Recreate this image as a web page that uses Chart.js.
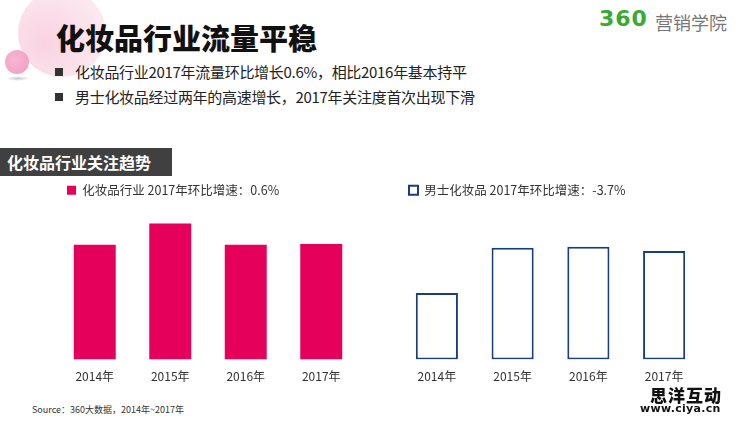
<!DOCTYPE html>
<html>
<head>
<meta charset="utf-8">
<script src="https://cdn.jsdelivr.net/npm/chart.js@4.4.0/dist/chart.umd.min.js"></script>
<style>
  body { margin: 0; width: 750px; height: 422px; background: #fff; position: relative; overflow: hidden;
         font-family: "Noto Sans CJK SC", "Noto Sans", sans-serif; color: #333; }
  .abs { position: absolute; white-space: nowrap; }
  #bigCircle { left: 18px; top: -11px; width: 88px; height: 88px; border-radius: 50%;
               background: radial-gradient(circle at 30% 60%, #f9d3e1 0%, #fbe3ec 55%, #fdf1f5 100%); }
  #smallCircle { left: 5px; top: 50px; width: 24px; height: 24px; border-radius: 50%;
                 background: radial-gradient(circle at 40% 40%, #f7b6d2 0%, #f29cc2 100%); }
  #shadow { left: 6px; top: 76px; width: 24px; height: 5px; border-radius: 50%;
            background: radial-gradient(ellipse, #c9c9c9 0%, rgba(255,255,255,0) 70%); }
  #title { left: 56px; top: 16px; font-size: 29px; font-weight: 900; color: #111; }
  .bullet { left: 55px; width: 8px; height: 8px; background: #333; }
  .btext { left: 75px; font-size: 15px; color: #222; letter-spacing: -0.3px; }
  #section { left: 0; top: 148px; width: 172px; height: 28px; background: #404040; }
  #sectionText { left: 7px; top: 150px; font-size: 16px; font-weight: 700; color: #fff; }
  #logo360 { left: 599px; top: 6px; font-family: "DejaVu Sans", sans-serif; font-size: 22px; font-weight: 700;
             color: #3aa935; letter-spacing: 1px; }
  #logoText { left: 655px; top: 9px; font-size: 18px; color: #777; }
  #source { left: 32px; top: 403px; font-size: 9px; color: #333; }
  #wm1 { left: 650px; top: 382px; font-size: 17px; font-weight: 900; color: #111; letter-spacing: 1px; }
  #wm2 { left: 640px; top: 402px; font-family: "DejaVu Sans", sans-serif; font-size: 11px; font-weight: 700; color: #111; letter-spacing: 0.3px; }
  canvas { position: absolute; }
</style>
</head>
<body>
<div id="bigCircle" class="abs"></div>
<div id="shadow" class="abs"></div>
<div id="smallCircle" class="abs"></div>
<div id="title" class="abs">化妆品行业流量平稳</div>
<div id="logo360" class="abs">360</div>
<div id="logoText" class="abs">营销学院</div>
<div class="abs bullet" style="top:68px"></div>
<div class="abs btext" style="top:61px">化妆品行业2017年流量环比增长0.6%，相比2016年基本持平</div>
<div class="abs bullet" style="top:93px"></div>
<div class="abs btext" style="top:86px">男士化妆品经过两年的高速增长，2017年关注度首次出现下滑</div>
<div id="section" class="abs"></div>
<div id="sectionText" class="abs">化妆品行业关注趋势</div>
<canvas id="leftChart" style="left:57px; top:174px; width:302px; height:220px"></canvas>
<canvas id="rightChart" style="left:399px; top:174px; width:303px; height:220px"></canvas>
<div id="source" class="abs">Source：360大数据，2014年~2017年</div>
<div id="wm1" class="abs">思洋互动</div>
<div id="wm2" class="abs">www.ciya.cn</div>

<script>
// categories and relative attention index
const years = ['2014年', '2015年', '2016年', '2017年'];
const cosmeticsValues = [114, 135, 114, 114.7];
const menValues = [66, 111, 112, 107.9];
const cosmeticsLabel = '化妆品行业 2017年环比增速：0.6%';
const menLabel = '男士化妆品 2017年环比增速：-3.7%';
const yMax = 152;

Chart.defaults.font.family = '"Noto Sans CJK SC", "Noto Sans", sans-serif';
Chart.defaults.color = '#333';

function makeChart(id, label, values, fill, border, borderWidth) {
  const ctx = document.getElementById(id);
  return new Chart(ctx, {
    type: 'bar',
    data: {
      labels: years,
      datasets: [{
        label: label,
        data: values,
        backgroundColor: fill,
        borderColor: border,
        borderWidth: borderWidth,
        borderSkipped: false,
        categoryPercentage: 1,
        barPercentage: 0.556
      }]
    },
    options: {
      responsive: false,
      animation: false,
      layout: { padding: 0 },
      plugins: {
        tooltip: { enabled: false },
        legend: {
          display: true,
          position: 'top',
          align: 'start',
          labels: { boxWidth: 9, boxHeight: 9, font: { size: 12.5 }, color: '#333', padding: 10 }
        }
      },
      scales: {
        x: {
          grid: { display: false, drawTicks: false },
          border: { display: false },
          ticks: { padding: 10, font: { size: 12 }, color: '#333' }
        },
        y: { display: false, min: 0, max: yMax }
      }
    }
  });
}

makeChart('leftChart', cosmeticsLabel, cosmeticsValues, '#e4005b', '#e4005b', 0);
makeChart('rightChart', menLabel, menValues, '#ffffff', '#163f7c', 2);
</script>
</body>
</html>
